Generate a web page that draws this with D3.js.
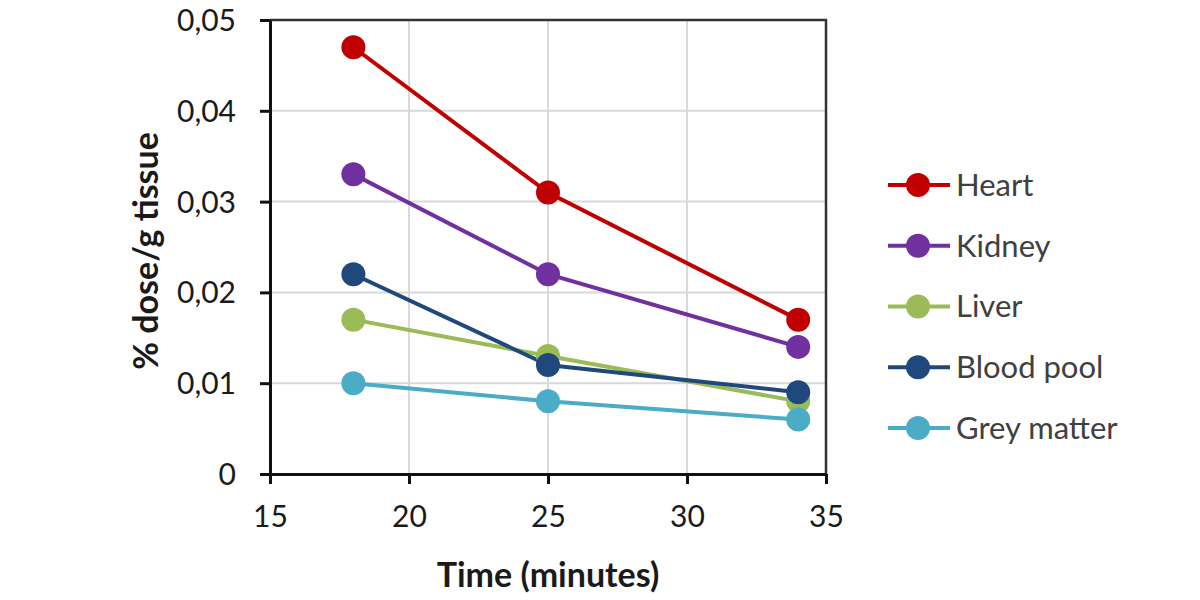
<!DOCTYPE html>
<html>
<head>
<meta charset="utf-8">
<script src="https://cdn.jsdelivr.net/npm/d3@7"></script>
<style>
  body { margin: 0; background: #fff; }
  svg { font-family: Lato, "Open Sans", sans-serif; }
</style>
</head>
<body>
<div id="container"></div>
<script>
/* CONSTANTS AND GLOBALS */
const width = 1200;
const height = 600;
const margin = ({top: 20, right: 374, bottom: 126, left: 270});

/* DATA */
const times = [18, 25, 34];
const seriesNames = ["Heart", "Kidney", "Liver", "Blood pool", "Grey matter"];
const heart = [0.047, 0.031, 0.017];
const kidney = [0.033, 0.022, 0.014];
const liver = [0.017, 0.013, 0.008];
const bloodPool = [0.022, 0.012, 0.009];
const greyMatter = [0.010, 0.008, 0.006];
const colors = ["#C00000", "#7030A0", "#9BBB59", "#1F497D", "#4BACC6"];
const xTicks = [15, 20, 25, 30, 35];
const yTicks = [0, 0.01, 0.02, 0.03, 0.04, 0.05];

const series = [heart, kidney, liver, bloodPool, greyMatter].map((vals, i) => ({
  name: seriesNames[i],
  color: colors[i],
  points: vals.map((v, j) => ({x: times[j], y: v}))
}));

/* SCALES */
const xScale = d3.scaleLinear()
  .domain([15, 35])
  .range([margin.left, width - margin.right]);
const yScale = d3.scaleLinear()
  .domain([0, 0.05])
  .range([height - margin.bottom, margin.top]);

const svg = d3.select("#container")
  .append("svg")
  .attr("width", width)
  .attr("height", height);

// gridlines
svg.append("g")
  .selectAll("line")
  .data(xTicks.slice(1, -1))
  .join("line")
  .attr("x1", d => xScale(d)).attr("x2", d => xScale(d))
  .attr("y1", yScale(0)).attr("y2", yScale(0.05))
  .attr("stroke", "#d9d9d9").attr("stroke-width", 2);

svg.append("g")
  .selectAll("line")
  .data(yTicks.slice(1, -1))
  .join("line")
  .attr("x1", xScale(15)).attr("x2", xScale(35))
  .attr("y1", d => yScale(d)).attr("y2", d => yScale(d))
  .attr("stroke", "#d9d9d9").attr("stroke-width", 2);

// frame top + right
svg.append("path")
  .attr("d", `M${xScale(15)},${yScale(0.05)}H${xScale(35)}V${yScale(0)}`)
  .attr("fill", "none")
  .attr("stroke", "#333")
  .attr("stroke-width", 2.5);

/* AXES */
const fmt = d => d === 0 ? "0" : d3.format(".2f")(d).replace(".", ",");

const yAxis = svg.append("g")
  .attr("transform", `translate(${margin.left},0)`)
  .call(d3.axisLeft(yScale).tickValues(yTicks).tickFormat(fmt).tickSize(10).tickSizeOuter(0).tickPadding(24));

const xAxis = svg.append("g")
  .attr("transform", `translate(0,${height - margin.bottom})`)
  .call(d3.axisBottom(xScale).tickValues(xTicks).tickSize(10).tickSizeOuter(0).tickPadding(22));

[xAxis, yAxis].forEach(ax => {
  ax.select(".domain").attr("stroke", "#111").attr("stroke-width", 3);
  ax.selectAll(".tick line").attr("stroke", "#111").attr("stroke-width", 3);
  ax.selectAll(".tick text")
    .attr("font-size", "30px")
    .attr("font-family", "Lato, 'Open Sans', sans-serif")
    .attr("fill", "#1a1a1a");
});
yAxis.selectAll(".tick text").attr("dy", "0.35em");

/* LINES AND POINTS */
const line = d3.line().x(d => xScale(d.x)).y(d => yScale(d.y));

const g = svg.append("g");
series.forEach(s => {
  g.append("path")
    .datum(s.points)
    .attr("d", line)
    .attr("fill", "none")
    .attr("stroke", s.color)
    .attr("stroke-width", 4);
});
series.forEach(s => {
  g.selectAll(null)
    .data(s.points)
    .join("circle")
    .attr("cx", d => xScale(d.x))
    .attr("cy", d => yScale(d.y))
    .attr("r", 12)
    .attr("fill", s.color);
});

/* AXIS TITLES */
svg.append("text")
  .attr("transform", `translate(158,251) rotate(-90)`)
  .attr("text-anchor", "middle")
  .attr("font-size", "34px")
  .attr("font-weight", "bold")
  .attr("fill", "#1a1a1a")
  .text("% dose/g tissue");

svg.append("text")
  .attr("x", 548)
  .attr("y", 587)
  .attr("text-anchor", "middle")
  .attr("font-size", "34px")
  .attr("font-weight", "bold")
  .attr("fill", "#1a1a1a")
  .text("Time (minutes)");

/* LEGEND */
const legend = svg.append("g")
  .selectAll("g")
  .data(series)
  .join("g")
  .attr("transform", (d, i) => `translate(888,${185 + i * 60.75})`);

legend.append("line")
  .attr("x1", 0).attr("x2", 62)
  .attr("stroke", d => d.color)
  .attr("stroke-width", 4);
legend.append("circle")
  .attr("cx", 30)
  .attr("r", 12)
  .attr("fill", d => d.color);
legend.append("text")
  .attr("x", 68)
  .attr("dy", "0.35em")
  .attr("font-size", "31px")
  .attr("fill", "#404040")
  .text(d => d.name);
</script>
</body>
</html>
